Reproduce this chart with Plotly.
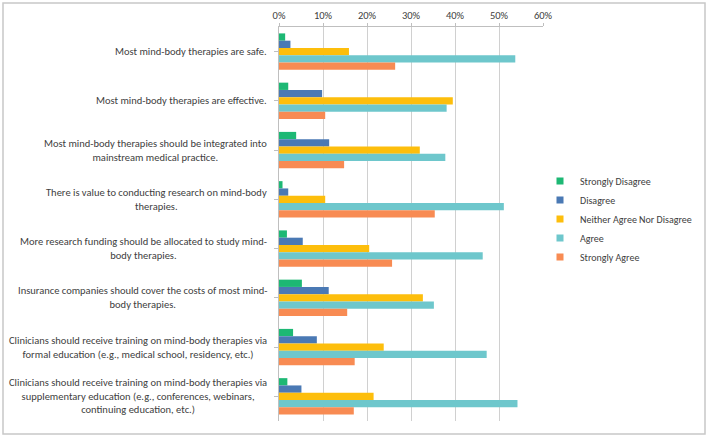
import plotly.graph_objects as go

statements = [
    "Most mind-body therapies are safe.",
    "Most mind-body therapies are effective.",
    "Most mind-body therapies should be integrated into<br>mainstream medical practice.",
    "There is value to conducting research on mind-body<br>therapies.",
    "More research funding should be allocated to study mind-<br>body therapies.",
    "Insurance companies should cover the costs of most mind-<br>body therapies.",
    "Clinicians should receive training on mind-body therapies via<br>formal education (e.g., medical school, residency, etc.)",
    "Clinicians should receive training on mind-body therapies via<br>supplementary education (e.g., conferences, webinars,<br>continuing education, etc.)",
]

series_names = ["Strongly Disagree", "Disagree", "Neither Agree Nor Disagree", "Agree", "Strongly Agree"]

strongly_disagree = [1.4, 2.1, 3.9, 0.8, 1.8, 5.2, 3.2, 1.9]
disagree = [2.6, 9.8, 11.4, 2.1, 5.4, 11.3, 8.6, 5.1]
neither = [15.9, 39.5, 32.0, 10.5, 20.5, 32.7, 23.8, 21.5]
agree = [53.7, 38.1, 37.8, 51.1, 46.3, 35.2, 47.2, 54.2]
strongly_agree = [26.4, 10.5, 14.8, 35.4, 25.7, 15.5, 17.2, 17.0]

series_values = [strongly_disagree, disagree, neither, agree, strongly_agree]
colors = ["#1DB874", "#4A79B4", "#FDBE0C", "#6EC7CC", "#F88B53"]

x_ticks = [0, 10, 20, 30, 40, 50, 60]
x_ticktext = ["0%", "10%", "20%", "30%", "40%", "50%", "60%"]

FONT = "Calibri, Carlito, Lato, sans-serif"
TEXT = "#404040"

W, H = 709, 438
L, R, T, B = 279, 543, 27, 421

fig = go.Figure()
cats = list(range(len(statements)))
for name, vals, col in zip(series_names, series_values, colors):
    fig.add_trace(go.Bar(
        x=vals, y=cats, orientation="h", name=name,
        marker=dict(color=col, line=dict(width=0)),
        showlegend=False,
    ))
# legend entries with small square symbols
for name, col in zip(series_names, colors):
    fig.add_trace(go.Scatter(
        x=[None], y=[None], mode="markers", name=name,
        marker=dict(symbol="square", size=7, color=col),
        showlegend=True,
    ))

pw, ph = R - L, B - T
annotations = []
for i, s in enumerate(statements):
    annotations.append(dict(
        x=(269 - L) / pw, xref="paper", y=i, yref="y",
        text=s, showarrow=False, xanchor="right", yanchor="middle",
        align="center", font=dict(family=FONT, size=10.5, color=TEXT),
    ))

fig.update_layout(
    width=W, height=H,
    margin=dict(l=L, r=W - R, t=T, b=H - B, autoexpand=False),
    paper_bgcolor="white", plot_bgcolor="white",
    barmode="group", bargap=0.26, bargroupgap=0,
    font=dict(family=FONT, size=11, color=TEXT),
    annotations=annotations,
    legend=dict(
        x=(540 - L) / pw, xanchor="left", y=1 - (219 - T) / ph, yanchor="middle",
        xref="paper", yref="paper",
        font=dict(family=FONT, size=10, color=TEXT),
        itemwidth=30, tracegroupgap=0, bgcolor="rgba(0,0,0,0)",
    ),
    xaxis=dict(
        side="top", range=[0, 60], tickvals=x_ticks, ticktext=x_ticktext,
        showgrid=True, gridcolor="#D0D0D0", gridwidth=1,
        showline=True, linecolor="#BFBFBF", linewidth=1,
        ticks="outside", ticklen=3, tickcolor="#BFBFBF",
        tickfont=dict(family=FONT, size=10.5, color=TEXT),
        zeroline=False, fixedrange=True,
    ),
    yaxis=dict(
        range=[len(statements) - 0.5, -0.5],
        tickvals=cats, showticklabels=False,
        showline=True, linecolor="#BFBFBF", linewidth=1,
        ticks="outside", ticklen=4, tickcolor="#BFBFBF",
        tickson="boundaries", showgrid=False, zeroline=False,
    ),
    shapes=[dict(
        type="rect", xref="paper", yref="paper",
        x0=(3 - L) / pw, x1=(705 - L) / pw,
        y0=-(434 - B) / ph, y1=1 + (T - 3) / ph,
        line=dict(color="#C8C8C8", width=1.5), fillcolor="rgba(0,0,0,0)",
        layer="below",
    )],
)

fig.write_html("out.html")
